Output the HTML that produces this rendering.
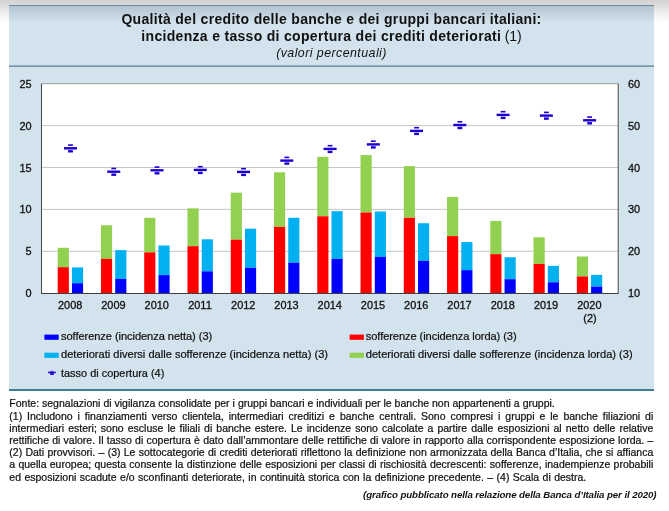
<!DOCTYPE html>
<html lang="it"><head><meta charset="utf-8"><title>Qualità del credito</title>
<style>
html,body{margin:0;padding:0;}
body{width:669px;height:511px;overflow:hidden;background:#fff;position:relative;font-family:"Liberation Sans",Arial,Helvetica,sans-serif;color:#111;}
.shade{position:absolute;left:0;top:0;width:669px;height:24px;background:linear-gradient(to bottom,#d2d0d0 0,#dddcdc 5px,#ececec 12px,#ffffff 22px);}
.panel{position:absolute;left:9px;top:5px;width:645px;height:384.5px;background:#d3e3ee;}
.panel:before{content:"";position:absolute;left:0;top:0;right:0;height:18px;background:linear-gradient(to bottom,#b1c3d0 0,#bccdd9 6px,#d3e3ee 18px);}
.topline{position:absolute;left:9px;top:4.5px;width:645px;height:1.2px;background:#6f8797;}
.sep{position:absolute;left:9px;top:64.6px;width:645px;height:2.6px;background:linear-gradient(to bottom,#a8c6d6,#7f9db0 45%,#6f8c9f 70%,#b5cfdc);}
.botline{position:absolute;left:9px;top:389px;width:645px;height:2px;background:#3f7d90;}
.title{position:absolute;left:9px;width:645px;top:11.4px;text-align:center;font-weight:bold;font-size:14px;line-height:16.75px;color:#111;letter-spacing:0.31px;white-space:nowrap;}
.title .n{font-weight:normal;letter-spacing:-0.1px;margin-left:-0.6px;}
.sub{position:absolute;left:9px;width:645px;top:45.2px;text-align:center;font-style:italic;font-size:12.4px;line-height:16px;letter-spacing:0.44px;color:#111;white-space:nowrap;}
svg{position:absolute;left:0;top:0;}
.ax{font-size:10.95px;fill:#111;stroke:#111;stroke-width:0.3px;}
.lg{font-size:11.1px;fill:#111;stroke:#111;stroke-width:0.22px;}
.note{position:absolute;left:9.3px;top:397.3px;width:644px;font-size:10.5px;line-height:12.2px;color:#111;-webkit-text-stroke:0.22px #111;}
.note div{text-align:justify;text-align-last:justify;white-space:nowrap;}
.note div.l{text-align:left;text-align-last:left;}
.credit{position:absolute;right:12.5px;top:488.6px;font-size:9.71px;font-weight:bold;font-style:italic;color:#111;white-space:nowrap;letter-spacing:-0.1px;}
</style></head><body>
<div class="shade"></div>
<div class="panel"></div>
<div class="topline"></div>
<div class="sep"></div>
<div class="botline"></div>
<div class="title">Qualità del credito delle banche e dei gruppi bancari italiani:<br>incidenza e tasso di copertura dei crediti deteriorati <span class="n">(1)</span></div>
<div class="sub">(valori percentuali)</div>
<svg width="669" height="511" viewBox="0 0 669 511" font-family="Liberation Sans, Arial, sans-serif">
<rect x="41.5" y="83.7" width="576.70" height="209.50" fill="#ffffff"/>
<line x1="41.5" x2="618.2" y1="251.30" y2="251.30" stroke="#c6c6c6" stroke-width="1"/>
<line x1="41.5" x2="618.2" y1="209.40" y2="209.40" stroke="#c6c6c6" stroke-width="1"/>
<line x1="41.5" x2="618.2" y1="167.50" y2="167.50" stroke="#c6c6c6" stroke-width="1"/>
<line x1="41.5" x2="618.2" y1="125.60" y2="125.60" stroke="#c6c6c6" stroke-width="1"/>
<rect x="57.70" y="247.78" width="11.15" height="19.44" fill="#92d050"/>
<rect x="57.70" y="267.22" width="11.15" height="26.28" fill="#ff0000"/>
<rect x="71.95" y="267.39" width="11.15" height="15.84" fill="#00b0f0"/>
<rect x="71.95" y="283.23" width="11.15" height="10.27" fill="#0000ff"/>
<rect x="100.96" y="225.24" width="11.15" height="33.60" fill="#92d050"/>
<rect x="100.96" y="258.84" width="11.15" height="34.66" fill="#ff0000"/>
<rect x="115.21" y="250.13" width="11.15" height="28.74" fill="#00b0f0"/>
<rect x="115.21" y="278.87" width="11.15" height="14.63" fill="#0000ff"/>
<rect x="144.22" y="217.78" width="11.15" height="34.61" fill="#92d050"/>
<rect x="144.22" y="252.39" width="11.15" height="41.11" fill="#ff0000"/>
<rect x="158.47" y="245.52" width="11.15" height="29.58" fill="#00b0f0"/>
<rect x="158.47" y="275.10" width="11.15" height="18.40" fill="#0000ff"/>
<rect x="187.48" y="208.39" width="11.15" height="37.79" fill="#92d050"/>
<rect x="187.48" y="246.19" width="11.15" height="47.31" fill="#ff0000"/>
<rect x="201.73" y="239.32" width="11.15" height="32.01" fill="#00b0f0"/>
<rect x="201.73" y="271.33" width="11.15" height="22.17" fill="#0000ff"/>
<rect x="230.74" y="192.64" width="11.15" height="47.01" fill="#92d050"/>
<rect x="230.74" y="239.65" width="11.15" height="53.85" fill="#ff0000"/>
<rect x="244.99" y="228.67" width="11.15" height="39.13" fill="#00b0f0"/>
<rect x="244.99" y="267.81" width="11.15" height="25.69" fill="#0000ff"/>
<rect x="274.00" y="172.28" width="11.15" height="54.64" fill="#92d050"/>
<rect x="274.00" y="226.91" width="11.15" height="66.59" fill="#ff0000"/>
<rect x="288.25" y="217.78" width="11.15" height="44.92" fill="#00b0f0"/>
<rect x="288.25" y="262.70" width="11.15" height="30.80" fill="#0000ff"/>
<rect x="317.26" y="156.86" width="11.15" height="59.41" fill="#92d050"/>
<rect x="317.26" y="216.27" width="11.15" height="77.23" fill="#ff0000"/>
<rect x="331.51" y="211.16" width="11.15" height="47.77" fill="#00b0f0"/>
<rect x="331.51" y="258.93" width="11.15" height="34.57" fill="#0000ff"/>
<rect x="360.52" y="155.10" width="11.15" height="57.40" fill="#92d050"/>
<rect x="360.52" y="212.50" width="11.15" height="81.00" fill="#ff0000"/>
<rect x="374.77" y="211.49" width="11.15" height="45.34" fill="#00b0f0"/>
<rect x="374.77" y="256.83" width="11.15" height="36.67" fill="#0000ff"/>
<rect x="403.78" y="166.08" width="11.15" height="51.70" fill="#92d050"/>
<rect x="403.78" y="217.78" width="11.15" height="75.72" fill="#ff0000"/>
<rect x="418.03" y="223.23" width="11.15" height="37.54" fill="#00b0f0"/>
<rect x="418.03" y="260.77" width="11.15" height="32.73" fill="#0000ff"/>
<rect x="447.04" y="197.00" width="11.15" height="39.13" fill="#92d050"/>
<rect x="447.04" y="236.13" width="11.15" height="57.37" fill="#ff0000"/>
<rect x="461.29" y="242.08" width="11.15" height="28.07" fill="#00b0f0"/>
<rect x="461.29" y="270.15" width="11.15" height="23.35" fill="#0000ff"/>
<rect x="490.30" y="220.88" width="11.15" height="33.27" fill="#92d050"/>
<rect x="490.30" y="254.15" width="11.15" height="39.35" fill="#ff0000"/>
<rect x="504.55" y="257.25" width="11.15" height="21.96" fill="#00b0f0"/>
<rect x="504.55" y="279.21" width="11.15" height="14.29" fill="#0000ff"/>
<rect x="533.56" y="237.31" width="11.15" height="26.65" fill="#92d050"/>
<rect x="533.56" y="263.95" width="11.15" height="29.55" fill="#ff0000"/>
<rect x="547.81" y="265.88" width="11.15" height="16.42" fill="#00b0f0"/>
<rect x="547.81" y="282.31" width="11.15" height="11.19" fill="#0000ff"/>
<rect x="576.82" y="256.50" width="11.15" height="19.94" fill="#92d050"/>
<rect x="576.82" y="276.44" width="11.15" height="17.06" fill="#ff0000"/>
<rect x="591.07" y="274.85" width="11.15" height="11.73" fill="#00b0f0"/>
<rect x="591.07" y="286.58" width="11.15" height="6.92" fill="#0000ff"/>
<g fill="#1b00d0"><rect x="64.00" y="147.10" width="13" height="2.4"/><rect x="68.10" y="144.30" width="4.8" height="1.6"/><rect x="68.10" y="150.10" width="4.8" height="2.4"/></g>
<g fill="#1b00d0"><rect x="107.26" y="170.50" width="13" height="2.4"/><rect x="111.36" y="167.70" width="4.8" height="1.6"/><rect x="111.36" y="173.50" width="4.8" height="2.4"/></g>
<g fill="#1b00d0"><rect x="150.52" y="169.10" width="13" height="2.4"/><rect x="154.62" y="166.30" width="4.8" height="1.6"/><rect x="154.62" y="172.10" width="4.8" height="2.4"/></g>
<g fill="#1b00d0"><rect x="193.78" y="168.70" width="13" height="2.4"/><rect x="197.88" y="165.90" width="4.8" height="1.6"/><rect x="197.88" y="171.70" width="4.8" height="2.4"/></g>
<g fill="#1b00d0"><rect x="237.04" y="170.70" width="13" height="2.4"/><rect x="241.14" y="167.90" width="4.8" height="1.6"/><rect x="241.14" y="173.70" width="4.8" height="2.4"/></g>
<g fill="#1b00d0"><rect x="280.30" y="159.40" width="13" height="2.4"/><rect x="284.40" y="156.60" width="4.8" height="1.6"/><rect x="284.40" y="162.40" width="4.8" height="2.4"/></g>
<g fill="#1b00d0"><rect x="323.56" y="147.70" width="13" height="2.4"/><rect x="327.66" y="144.90" width="4.8" height="1.6"/><rect x="327.66" y="150.70" width="4.8" height="2.4"/></g>
<g fill="#1b00d0"><rect x="366.82" y="143.20" width="13" height="2.4"/><rect x="370.92" y="140.40" width="4.8" height="1.6"/><rect x="370.92" y="146.20" width="4.8" height="2.4"/></g>
<g fill="#1b00d0"><rect x="410.08" y="129.70" width="13" height="2.4"/><rect x="414.18" y="126.90" width="4.8" height="1.6"/><rect x="414.18" y="132.70" width="4.8" height="2.4"/></g>
<g fill="#1b00d0"><rect x="453.34" y="123.80" width="13" height="2.4"/><rect x="457.44" y="121.00" width="4.8" height="1.6"/><rect x="457.44" y="126.80" width="4.8" height="2.4"/></g>
<g fill="#1b00d0"><rect x="496.60" y="113.70" width="13" height="2.4"/><rect x="500.70" y="110.90" width="4.8" height="1.6"/><rect x="500.70" y="116.70" width="4.8" height="2.4"/></g>
<g fill="#1b00d0"><rect x="539.86" y="114.40" width="13" height="2.4"/><rect x="543.96" y="111.60" width="4.8" height="1.6"/><rect x="543.96" y="117.40" width="4.8" height="2.4"/></g>
<g fill="#1b00d0"><rect x="583.12" y="119.10" width="13" height="2.4"/><rect x="587.22" y="116.30" width="4.8" height="1.6"/><rect x="587.22" y="122.10" width="4.8" height="2.4"/></g>
<line x1="41.5" x2="618.2" y1="83.7" y2="83.7" stroke="#9a9a9a" stroke-width="1"/>
<line x1="41.5" x2="41.5" y1="83.7" y2="293.2" stroke="#484848" stroke-width="1"/>
<line x1="618.2" x2="618.2" y1="83.7" y2="293.2" stroke="#484848" stroke-width="1"/>
<line x1="41.0" x2="618.7" y1="293.5" y2="293.5" stroke="#404040" stroke-width="1.1"/>
<text x="31.7" y="297.20" text-anchor="end" class="ax">0</text>
<text x="31.7" y="255.30" text-anchor="end" class="ax">5</text>
<text x="31.7" y="213.40" text-anchor="end" class="ax">10</text>
<text x="31.7" y="171.50" text-anchor="end" class="ax">15</text>
<text x="31.7" y="129.60" text-anchor="end" class="ax">20</text>
<text x="31.7" y="87.70" text-anchor="end" class="ax">25</text>
<text x="628.0" y="297.20" class="ax">10</text>
<text x="628.0" y="255.30" class="ax">20</text>
<text x="628.0" y="213.40" class="ax">30</text>
<text x="628.0" y="171.50" class="ax">40</text>
<text x="628.0" y="129.60" class="ax">50</text>
<text x="628.0" y="87.70" class="ax">60</text>
<text x="70.20" y="309.0" text-anchor="middle" class="ax">2008</text>
<text x="113.46" y="309.0" text-anchor="middle" class="ax">2009</text>
<text x="156.72" y="309.0" text-anchor="middle" class="ax">2010</text>
<text x="199.98" y="309.0" text-anchor="middle" class="ax">2011</text>
<text x="243.24" y="309.0" text-anchor="middle" class="ax">2012</text>
<text x="286.50" y="309.0" text-anchor="middle" class="ax">2013</text>
<text x="329.76" y="309.0" text-anchor="middle" class="ax">2014</text>
<text x="373.02" y="309.0" text-anchor="middle" class="ax">2015</text>
<text x="416.28" y="309.0" text-anchor="middle" class="ax">2016</text>
<text x="459.54" y="309.0" text-anchor="middle" class="ax">2017</text>
<text x="502.80" y="309.0" text-anchor="middle" class="ax">2018</text>
<text x="546.06" y="309.0" text-anchor="middle" class="ax">2019</text>
<text x="589.32" y="309.0" text-anchor="middle" class="ax">2020</text>
<text x="590.02" y="321.6" text-anchor="middle" class="ax">(2)</text>
<rect x="44.4" y="334.6" width="14.3" height="5.2" fill="#0000ff"/>
<text x="61.0" y="340.2" class="lg" textLength="151.2">sofferenze (incidenza netta) (3)</text>
<rect x="349.6" y="334.6" width="14.3" height="5.2" fill="#ff0000"/>
<text x="365.8" y="340.2" class="lg" textLength="150.8">sofferenze (incidenza lorda) (3)</text>
<rect x="44.4" y="352.7" width="14.3" height="5.2" fill="#00b0f0"/>
<text x="61.0" y="358.3" class="lg" textLength="267.0">deteriorati diversi dalle sofferenze (incidenza netta) (3)</text>
<rect x="349.6" y="352.7" width="14.3" height="5.2" fill="#92d050"/>
<text x="365.8" y="358.3" class="lg" textLength="266.8">deteriorati diversi dalle sofferenze (incidenza lorda) (3)</text>
<g fill="#1b00d0"><rect x="48.1" y="371.65" width="7.6" height="1.6"/><rect x="50.5" y="370.8" width="2.9" height="0.9" opacity="0.75"/><rect x="50.2" y="373.2" width="3.6" height="1.8"/></g>
<text x="61.0" y="376.7" class="lg" style="font-size:10.95px">tasso di copertura (4)</text>
</svg>
<div class="note">
<div class="l" style="width:545.5px;text-align-last:justify">Fonte: segnalazioni di vigilanza consolidate per i gruppi bancari e individuali per le banche non appartenenti a gruppi.</div>
<div>(1) Includono i finanziamenti verso clientela, intermediari creditizi e banche centrali. Sono compresi i gruppi e le banche filiazioni di</div>
<div>intermediari esteri; sono escluse le filiali di banche estere. Le incidenze sono calcolate a partire dalle esposizioni al netto delle relative</div>
<div>rettifiche di valore. Il tasso di copertura è dato dall’ammontare delle rettifiche di valore in rapporto alla corrispondente esposizione lorda. –</div>
<div>(2) Dati provvisori. – (3) Le sottocategorie di crediti deteriorati riflettono la definizione non armonizzata della Banca d’Italia, che si affianca</div>
<div>a quella europea; questa consente la distinzione delle esposizioni per classi di rischiosità decrescenti: sofferenze, inadempienze probabili</div>
<div class="l" style="width:577px;text-align-last:justify">ed esposizioni scadute e/o sconfinanti deteriorate, in continuità storica con la definizione precedente. – (4) Scala di destra.</div>
</div>
<div class="credit">(grafico pubblicato nella relazione della Banca d’Italia per il 2020)</div>
</body></html>
